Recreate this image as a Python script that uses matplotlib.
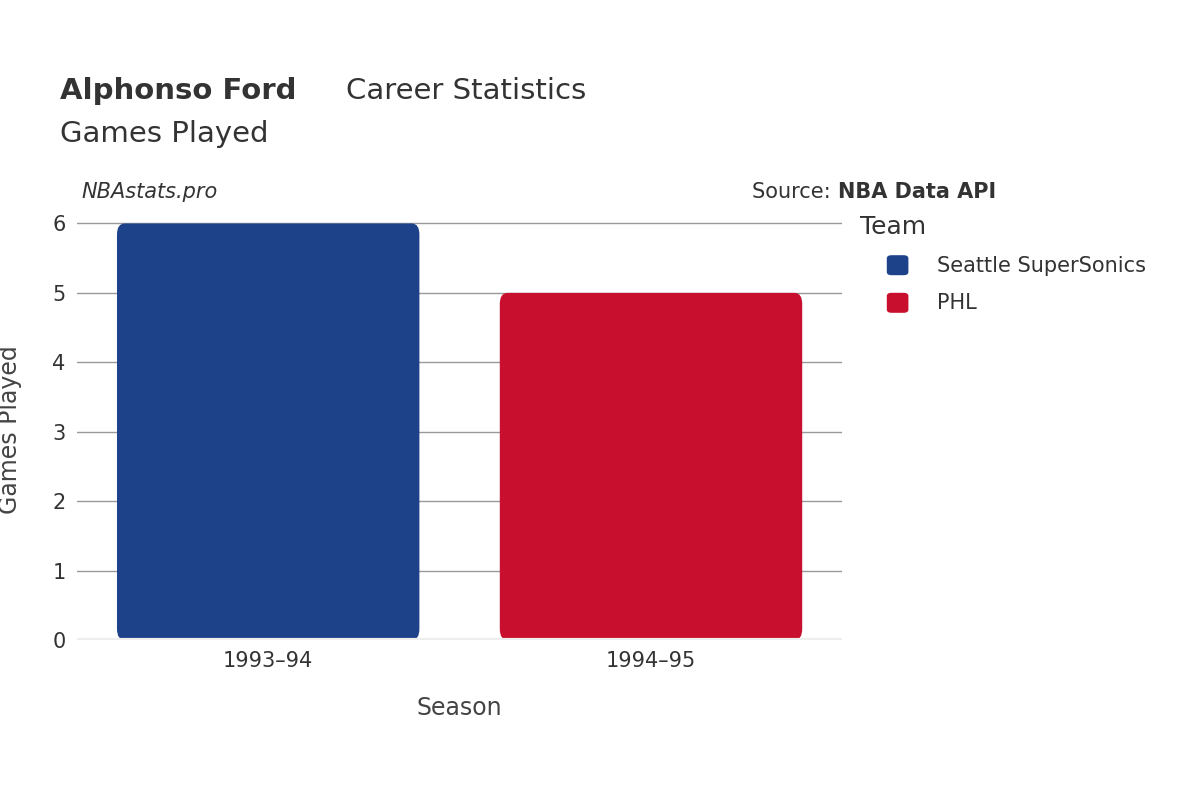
import matplotlib
matplotlib.use("Agg")
import matplotlib.pyplot as plt
from matplotlib.patches import FancyBboxPatch

seasons = ["1993–94", "1994–95"]
games = [6, 5]
teams = ["Seattle SuperSonics", "PHL"]
colors = ["#1d428a", "#c8102e"]
yticks = [0, 1, 2, 3, 4, 5, 6]

fig = plt.figure(figsize=(12, 8), dpi=100)
ax = fig.add_axes([0.064, 0.2, 0.638, 0.525])
for i, (v, c) in enumerate(zip(games, colors)):
    ax.add_patch(FancyBboxPatch((i - 0.395, 0), 0.79, v, boxstyle="round,pad=0,rounding_size=0.02",
                                fc=c, ec="none", mutation_aspect=8, zorder=3))
ax.set_xlim(-0.5, 1.5)
ax.set_ylim(0, 6.05)
ax.set_yticks(yticks)
ax.set_xticks(range(len(seasons)))
ax.set_xticklabels(seasons)
ax.grid(axis="y", color="#999999", lw=1, zorder=0)
for s in ax.spines.values():
    s.set_visible(False)
ax.axhline(0, color="#eeeeee", lw=3, zorder=4)
ax.tick_params(length=0, labelsize=15, colors="#333333", pad=8)
ax.set_xlabel("Season", fontsize=17, color="#444444", labelpad=18)
ax.set_ylabel("Games Played", fontsize=17, color="#444444", labelpad=22)

fig.text(0.05, 0.876, "Alphonso Ford", fontsize=21, fontweight="bold", color="#333333")
fig.text(0.288, 0.876, "Career Statistics", fontsize=21, color="#333333")
fig.text(0.05, 0.822, "Games Played", fontsize=21, color="#333333")
fig.text(0.068, 0.752, "NBAstats.pro", fontsize=15, style="italic", color="#333333")
fig.text(0.698, 0.752, "Source: ", fontsize=15, color="#333333", ha="right")
fig.text(0.698, 0.752, "NBA Data API", fontsize=15, fontweight="bold", color="#333333", ha="left")

fig.text(0.717, 0.708, "Team", fontsize=18, color="#333333")
for i, (t, c) in enumerate(zip(teams, colors)):
    y = 0.668 - i * 0.047
    fig.patches.append(FancyBboxPatch((0.739, y - 0.012), 0.018, 0.025, boxstyle="round,pad=0,rounding_size=0.004",
                                      fc=c, ec="none", transform=fig.transFigure, figure=fig))
    fig.text(0.781, y, t, fontsize=15, color="#333333", va="center")

fig.savefig("out.png")
